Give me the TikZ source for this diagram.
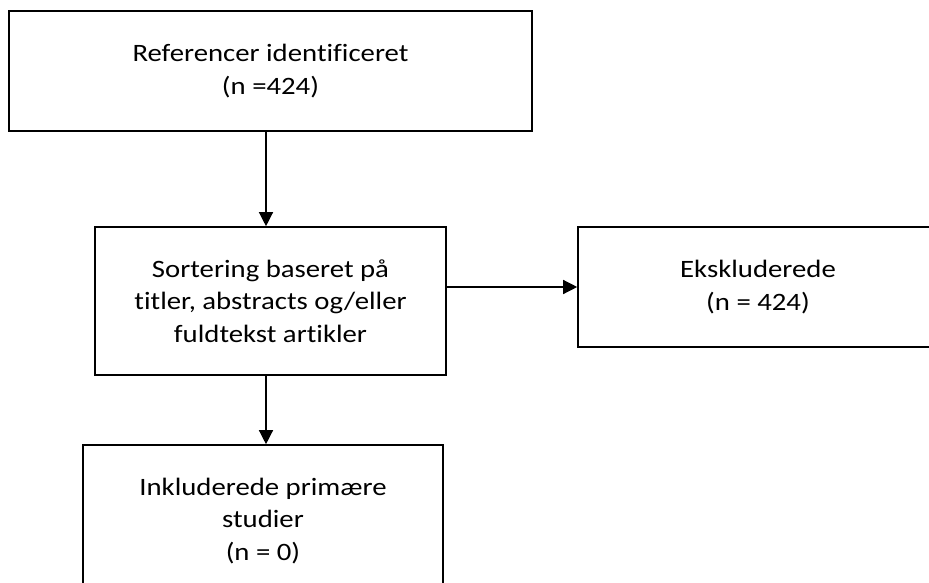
\documentclass[tikz,border=0pt]{standalone}
\usepackage{fontspec}
\setmainfont{Carlito}[FakeStretch=1.15, Ligatures=NoCommon]
\usetikzlibrary{arrows.meta}

\begin{document}
\begin{tikzpicture}[x=1pt, y=1pt,
    boks/.style={draw, line width=1.6pt, align=center, inner sep=0pt,
        font=\fontsize{25}{32.5}\selectfont},
    pil/.style={line width=1.3pt, -{Triangle[length=14pt, width=14pt]}}]

    \useasboundingbox (0,0) rectangle (929,-583);
    \clip (0,0) rectangle (929,-583);

    % Bokse
    \node[boks, minimum width=523, minimum height=120] (ref) at (270.5,-71)
        {Referencer identificeret\\(n =424)};
    \node[boks, minimum width=351, minimum height=148] (sort) at (270.5,-301)
        {Sortering baseret på\\titler, abstracts og/eller\\fuldtekst artikler};
    \node[boks, minimum width=360, minimum height=120] (eks) at (758,-287)
        {Ekskluderede\\(n = 424)};
    \node[boks, minimum width=360, minimum height=152] (inkl) at (263,-521)
        {Inkluderede primære\\studier\\(n = 0)};

    % Pile
    \draw[pil] ([xshift=-4.5pt]ref.south) -- ([xshift=-4.5pt]sort.north);
    \draw[pil] (sort.east |- eks.west) -- (eks.west);
    \draw[pil] ([xshift=-4.5pt]sort.south) -- ([xshift=-4.5pt]sort.south |- inkl.north);

\end{tikzpicture}
\end{document}
